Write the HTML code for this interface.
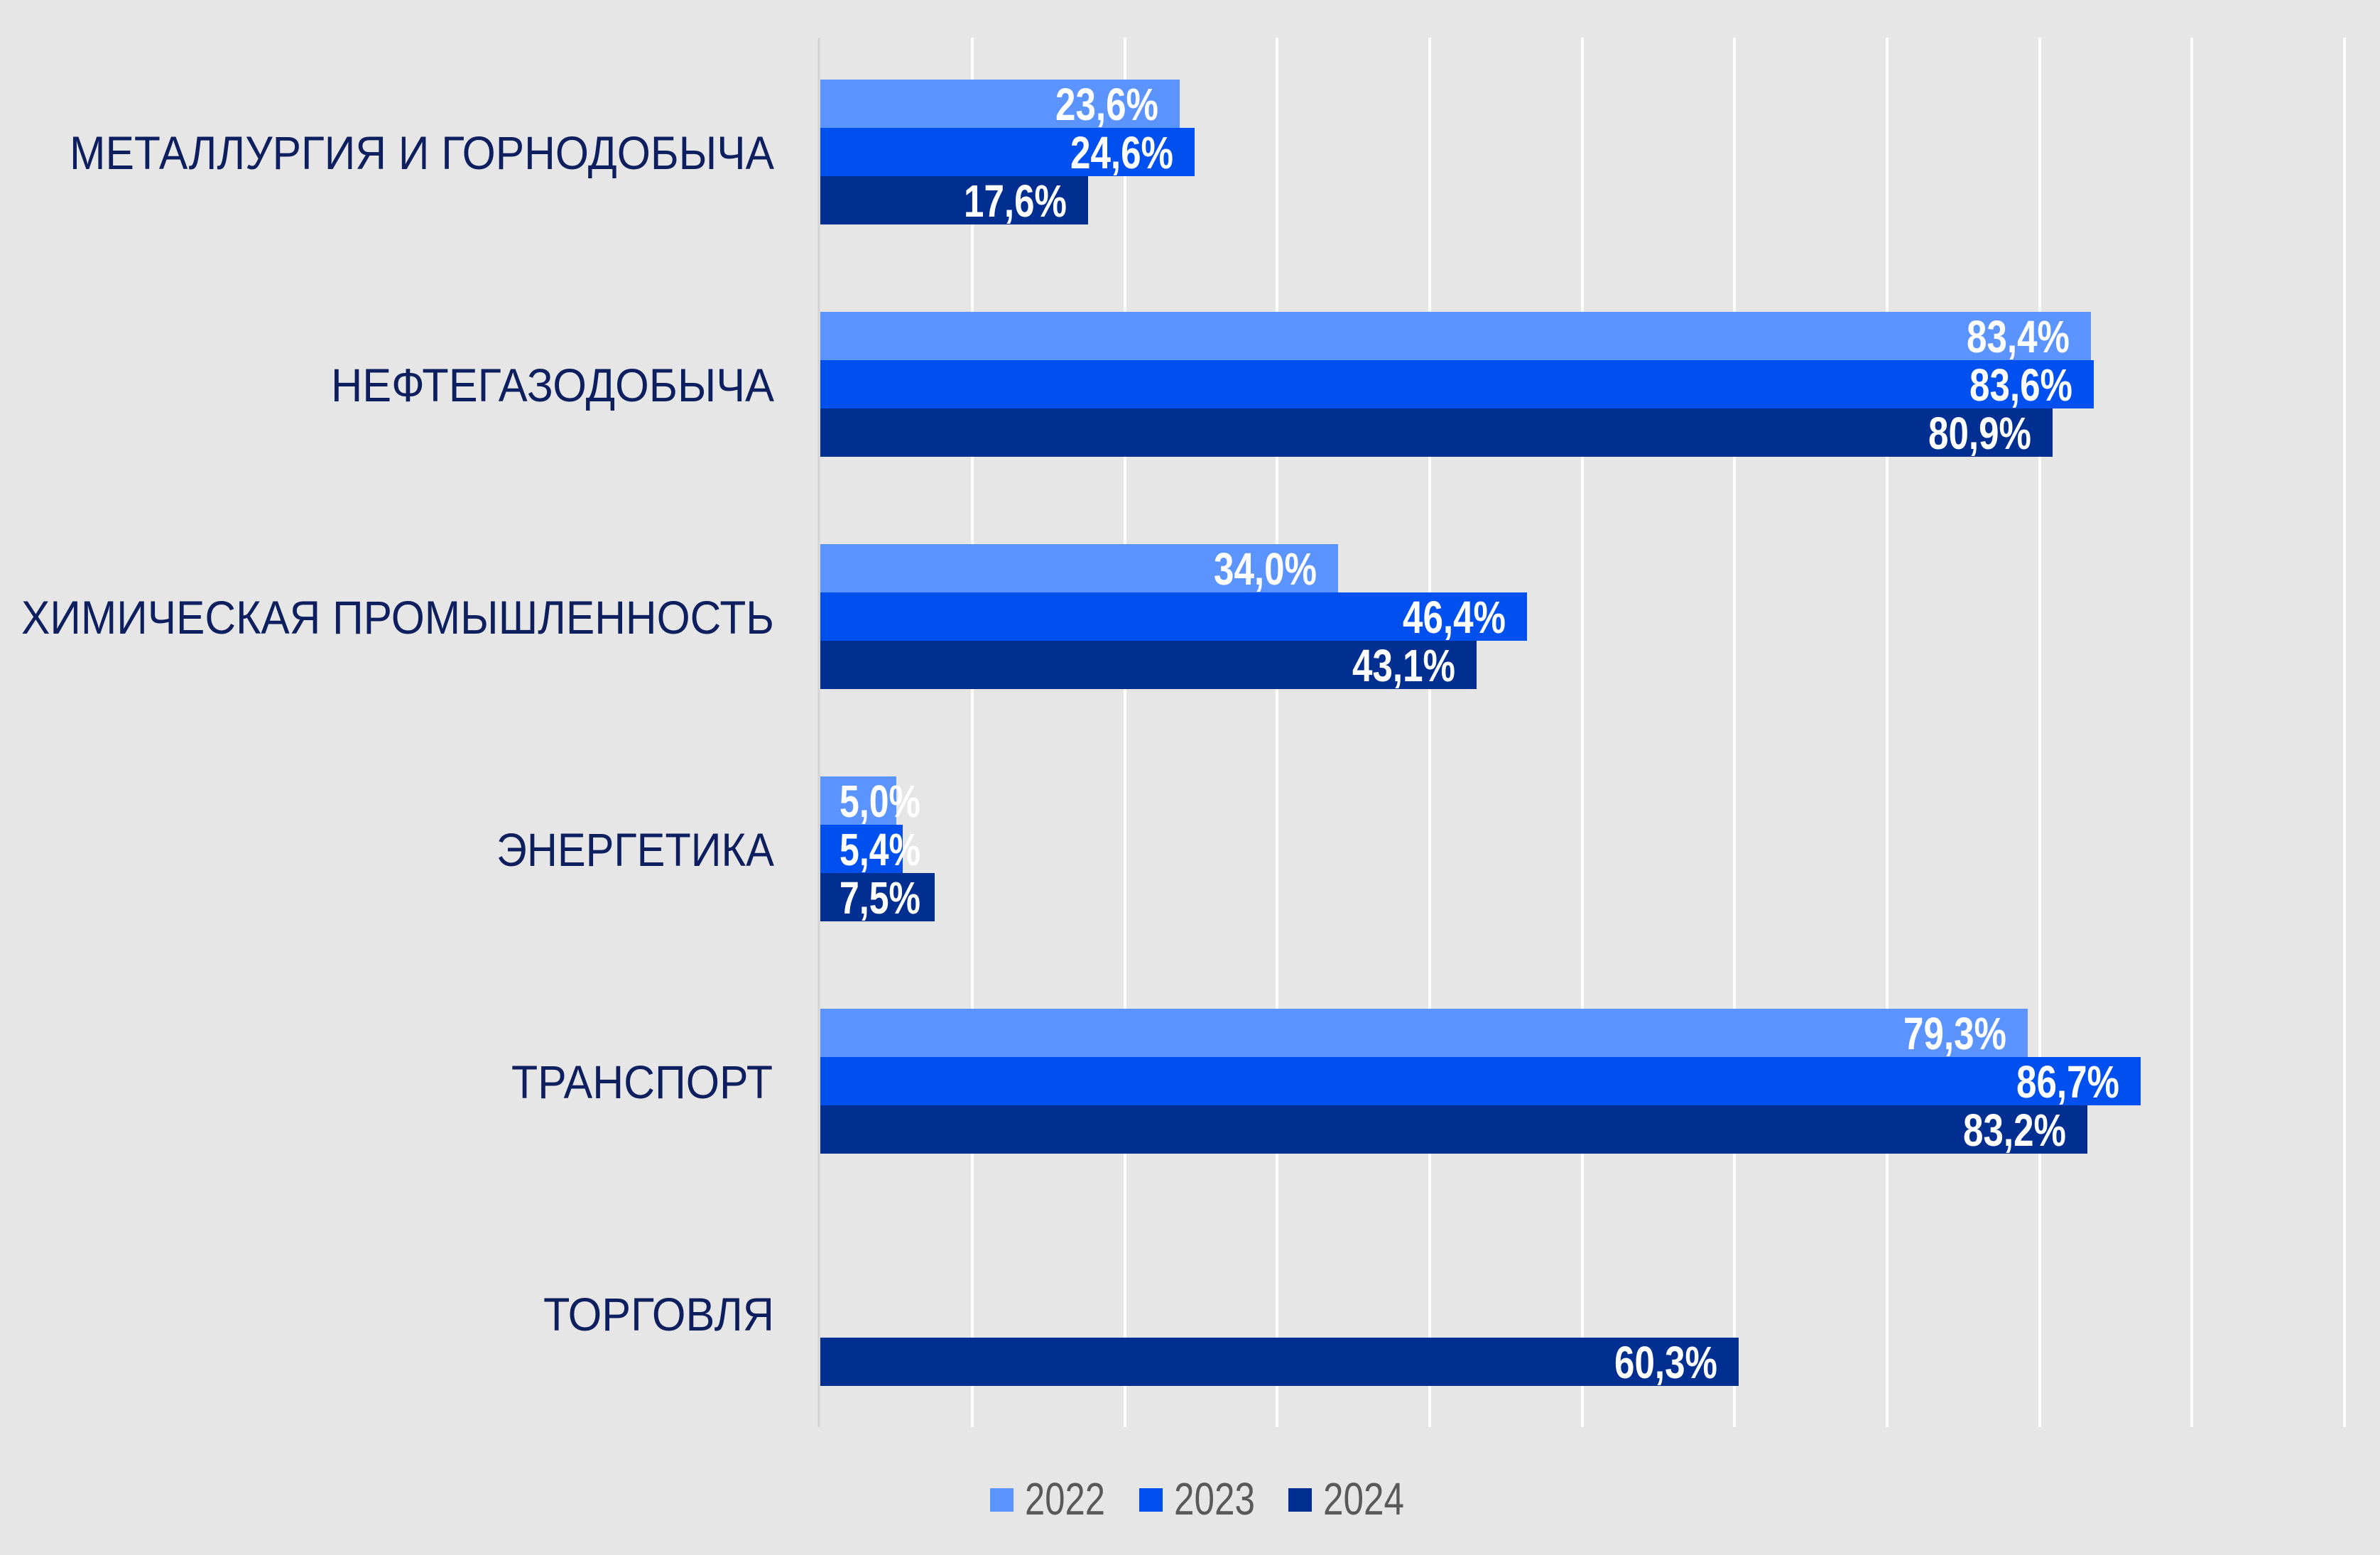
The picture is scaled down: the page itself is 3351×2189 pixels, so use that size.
<!DOCTYPE html>
<html><head><meta charset="utf-8"><style>
html,body{margin:0;padding:0;background:#e6e6e6;}
svg{display:block;}
</style></head><body>
<svg width="3351" height="2189" viewBox="0 0 3351 2189" xmlns="http://www.w3.org/2000/svg">
<rect width="3351" height="2189" fill="#e6e6e6"/>
<g stroke="#ffffff" stroke-width="4">
<line x1="1369" y1="53" x2="1369" y2="2009"/>
<line x1="1584" y1="53" x2="1584" y2="2009"/>
<line x1="1798" y1="53" x2="1798" y2="2009"/>
<line x1="2013" y1="53" x2="2013" y2="2009"/>
<line x1="2228" y1="53" x2="2228" y2="2009"/>
<line x1="2442" y1="53" x2="2442" y2="2009"/>
<line x1="2657" y1="53" x2="2657" y2="2009"/>
<line x1="2872" y1="53" x2="2872" y2="2009"/>
<line x1="3086" y1="53" x2="3086" y2="2009"/>
<line x1="3301" y1="53" x2="3301" y2="2009"/>
</g>
<line x1="1153" y1="53" x2="1153" y2="2009" stroke="#d4d4d4" stroke-width="3"/>

<g>
<!-- group 1 -->
<rect x="1155" y="112" width="506" height="68" fill="#5b93ff"/>
<rect x="1155" y="180" width="527" height="68" fill="#0050f0"/>
<rect x="1155" y="248" width="377" height="68" fill="#002f91"/>
<!-- group 2 -->
<rect x="1155" y="439" width="1789" height="68" fill="#5b93ff"/>
<rect x="1155" y="507" width="1793" height="68" fill="#0050f0"/>
<rect x="1155" y="575" width="1735" height="68" fill="#002f91"/>
<!-- group 3 -->
<rect x="1155" y="766" width="729" height="68" fill="#5b93ff"/>
<rect x="1155" y="834" width="995" height="68" fill="#0050f0"/>
<rect x="1155" y="902" width="924" height="68" fill="#002f91"/>
<!-- group 4 -->
<rect x="1155" y="1093" width="107" height="68" fill="#5b93ff"/>
<rect x="1155" y="1161" width="116" height="68" fill="#0050f0"/>
<rect x="1155" y="1229" width="161" height="68" fill="#002f91"/>
<!-- group 5 -->
<rect x="1155" y="1420" width="1700" height="68" fill="#5b93ff"/>
<rect x="1155" y="1488" width="1859" height="68" fill="#0050f0"/>
<rect x="1155" y="1556" width="1784" height="68" fill="#002f91"/>
<!-- group 6 -->
<rect x="1155" y="1883" width="1293" height="68" fill="#002f91"/>
</g>

<g font-family="'Liberation Sans', sans-serif" font-weight="bold" font-size="64" fill="#ffffff" text-anchor="end">
<text x="1631" y="169" textLength="145" lengthAdjust="spacingAndGlyphs">23,6%</text>
<text x="1652" y="237" textLength="145" lengthAdjust="spacingAndGlyphs">24,6%</text>
<text x="1502" y="305" textLength="145" lengthAdjust="spacingAndGlyphs">17,6%</text>
<text x="2914" y="496" textLength="145" lengthAdjust="spacingAndGlyphs">83,4%</text>
<text x="2918" y="564" textLength="145" lengthAdjust="spacingAndGlyphs">83,6%</text>
<text x="2860" y="632" textLength="145" lengthAdjust="spacingAndGlyphs">80,9%</text>
<text x="1854" y="823" textLength="145" lengthAdjust="spacingAndGlyphs">34,0%</text>
<text x="2120" y="891" textLength="145" lengthAdjust="spacingAndGlyphs">46,4%</text>
<text x="2049" y="959" textLength="145" lengthAdjust="spacingAndGlyphs">43,1%</text>
<text x="2825" y="1477" textLength="145" lengthAdjust="spacingAndGlyphs">79,3%</text>
<text x="2984" y="1545" textLength="145" lengthAdjust="spacingAndGlyphs">86,7%</text>
<text x="2909" y="1613" textLength="145" lengthAdjust="spacingAndGlyphs">83,2%</text>
<text x="2418" y="1940" textLength="145" lengthAdjust="spacingAndGlyphs">60,3%</text>
</g>
<g font-family="'Liberation Sans', sans-serif" font-weight="bold" font-size="64" fill="#ffffff" text-anchor="start">
<text x="1182" y="1150" textLength="114" lengthAdjust="spacingAndGlyphs">5,0%</text>
<text x="1182" y="1218" textLength="114" lengthAdjust="spacingAndGlyphs">5,4%</text>
<text x="1182" y="1286" textLength="114" lengthAdjust="spacingAndGlyphs">7,5%</text>
</g>

<g font-family="'Liberation Sans', sans-serif" font-size="66" fill="#0d1f5e" text-anchor="end">
<text x="1090" y="238" textLength="992" lengthAdjust="spacingAndGlyphs">МЕТАЛЛУРГИЯ И ГОРНОДОБЫЧА</text>
<text x="1090" y="565" textLength="624" lengthAdjust="spacingAndGlyphs">НЕФТЕГАЗОДОБЫЧА</text>
<text x="1090" y="892" textLength="1060" lengthAdjust="spacingAndGlyphs">ХИМИЧЕСКАЯ ПРОМЫШЛЕННОСТЬ</text>
<text x="1090" y="1219" textLength="391" lengthAdjust="spacingAndGlyphs">ЭНЕРГЕТИКА</text>
<text x="1088" y="1546" textLength="368" lengthAdjust="spacingAndGlyphs">ТРАНСПОРТ</text>
<text x="1090" y="1873" textLength="325" lengthAdjust="spacingAndGlyphs">ТОРГОВЛЯ</text>
</g>

<rect x="1394" y="2095" width="33" height="33" fill="#5b93ff"/>
<rect x="1604" y="2095" width="33" height="33" fill="#0050f0"/>
<rect x="1814" y="2095" width="33" height="33" fill="#002f91"/>
<g font-family="'Liberation Sans', sans-serif" font-size="64" fill="#595959">
<text x="1443" y="2132" textLength="113" lengthAdjust="spacingAndGlyphs">2022</text>
<text x="1653" y="2132" textLength="114" lengthAdjust="spacingAndGlyphs">2023</text>
<text x="1863" y="2132" textLength="114" lengthAdjust="spacingAndGlyphs">2024</text>
</g>
</svg>
</body></html>
